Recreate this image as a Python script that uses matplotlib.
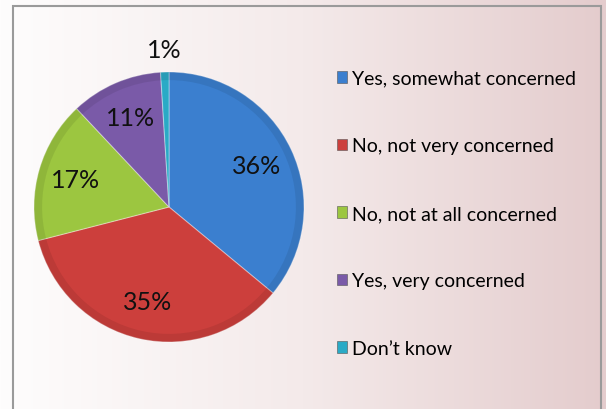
import matplotlib.pyplot as plt
import matplotlib.patches as mpatches
from matplotlib.colors import LinearSegmentedColormap
import numpy as np

plt.rcParams["font.family"] = ["Lato", "DejaVu Sans"]

labels = ["Yes, somewhat concerned", "No, not very concerned",
          "No, not at all concerned", "Yes, very concerned", "Don\u2019t know"]
shares = [36, 35, 17, 11, 1]
colors = ["#3b7fcf", "#cc3f3c", "#9cc640", "#7a5aa8", "#2aaac6"]

fig = plt.figure(figsize=(6.06, 4.10), dpi=100)

# background: white on the left fading to a dusty pink on the right
bg = fig.add_axes([0, 0, 1, 1], zorder=-10)
grad = np.linspace(0, 1, 256).reshape(1, -1)
cmap = LinearSegmentedColormap.from_list("bg", ["#fefdfd", "#f4eaea", "#e4cccd"])
bg.imshow(grad, aspect="auto", cmap=cmap, extent=[0, 1, 0, 1])
bg.set_xlim(0, 1)
bg.set_ylim(0, 1)
bg.axis("off")
bg.add_patch(mpatches.Rectangle((13 / 606, -0.05), 588 / 606, 1.05 - 7 / 410,
                                fill=False, edgecolor="#9a9a9a", linewidth=1.5))

ax = fig.add_axes([34 / 606, 67 / 410, 270 / 606, 270 / 410])
wedges, texts, autotexts = ax.pie(
    shares, colors=colors, startangle=90, counterclock=False,
    autopct="%1.0f%%", pctdistance=0.72,
    wedgeprops=dict(edgecolor=(1, 1, 1, 0.35), linewidth=0.8),
    textprops=dict(fontsize=18, color="#111111"))

# darker rim to give the slices a rounded look
ax.pie(shares, colors=["none"] * len(shares), startangle=90, counterclock=False,
       radius=1, wedgeprops=dict(width=0.06, facecolor=(0, 0, 0, 0.08),
                                 edgecolor="none"))

# the tiny slice gets its label outside the pie
w = wedges[-1]
mid = np.deg2rad((w.theta1 + w.theta2) / 2)
autotexts[-1].set_position((1.17 * np.cos(mid), 1.17 * np.sin(mid)))

for t in autotexts:
    t.set_clip_on(False)
ax.set_xlim(-1, 1)
ax.set_ylim(-1, 1)
ax.set_aspect("equal")

handles = [mpatches.Patch(facecolor=c, edgecolor="#555555", linewidth=0.4)
           for c in colors]
fig.legend(handles, labels, loc="upper left",
           bbox_to_anchor=(329 / 606, 1 - 63 / 410), frameon=False,
           fontsize=14, handlelength=0.55, handleheight=0.55,
           handletextpad=0.25, labelspacing=2.6, borderaxespad=0)

fig.savefig("out.png", dpi=100)
